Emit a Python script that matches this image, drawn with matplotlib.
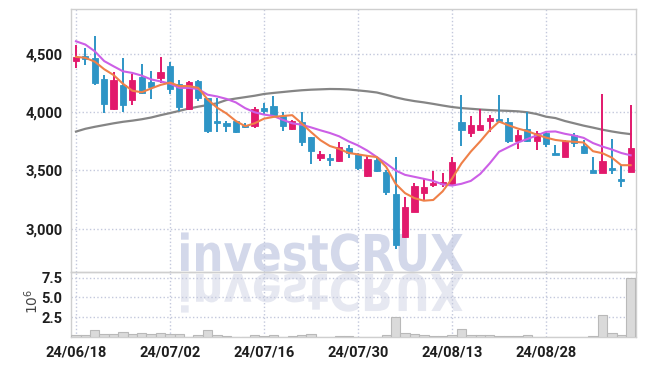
import numpy as np
import matplotlib
matplotlib.use('Agg')
import matplotlib.pyplot as plt
import matplotlib.transforms as mtransforms
from matplotlib.textpath import TextPath
from matplotlib.patches import PathPatch
from matplotlib.font_manager import FontProperties
from matplotlib.ticker import FuncFormatter

# trading days, 2024-06-18 .. 2024-09-10
dates = ['24/06/18', '24/06/19', '24/06/20', '24/06/21', '24/06/24', '24/06/25', '24/06/26',
         '24/06/27', '24/06/28', '24/07/01', '24/07/02', '24/07/03', '24/07/04', '24/07/05',
         '24/07/08', '24/07/09', '24/07/10', '24/07/11', '24/07/12', '24/07/15', '24/07/16',
         '24/07/17', '24/07/18', '24/07/19', '24/07/22', '24/07/23', '24/07/24', '24/07/25',
         '24/07/26', '24/07/29', '24/07/30', '24/07/31', '24/08/01', '24/08/02', '24/08/05',
         '24/08/06', '24/08/07', '24/08/08', '24/08/09', '24/08/12', '24/08/13', '24/08/14',
         '24/08/16', '24/08/19', '24/08/20', '24/08/21', '24/08/22', '24/08/23', '24/08/26',
         '24/08/27', '24/08/28', '24/08/29', '24/08/30', '24/09/02', '24/09/03', '24/09/04',
         '24/09/05', '24/09/06', '24/09/09', '24/09/10']

opens = [4438, 4484, 4470, 4286, 4030, 4237, 4108, 4303, 4263, 4291,
         4401, 4243, 4030, 4272, 4122, 3921, 3912, 3921, 3890, 3878,
         4036, 4050, 3964, 3852, 3920, 3786, 3605, 3605, 3584, 3691,
         3642, 3455, 3591, 3490, 3297, 2924, 3145, 3309, 3372, 3381,
         3375, 3916, 3826, 3849, 3929, 3938, 3916, 3757, 3855, 3757,
         3826, 3653, 3619, 3806, 3714, 3504, 3481, 3519, 3427, 3490]
highs = [4576, 4553, 4659, 4321, 4347, 4467, 4332, 4415, 4358, 4472,
         4435, 4280, 4272, 4275, 4125, 4122, 3927, 3925, 3912, 4041,
         4079, 4142, 4002, 3935, 4000, 3790, 3671, 3640, 3748, 3720,
         3650, 3625, 3619, 3500, 3614, 3274, 3390, 3433, 3496, 3476,
         3614, 4145, 3964, 4028, 3978, 4145, 3950, 3849, 4002, 3840,
         3834, 3717, 3763, 3820, 3763, 3619, 4159, 3771, 3547, 4065]
lows = [4381, 4403, 4234, 3993, 4022, 4004, 4062, 4157, 4114, 4252,
        4153, 4010, 4022, 4093, 3821, 3834, 3834, 3826, 3864, 3869,
        3978, 3964, 3843, 3849, 3714, 3556, 3582, 3539, 3576, 3610,
        3504, 3447, 3490, 3286, 2821, 2916, 3140, 3246, 3360, 3360,
        3366, 3711, 3786, 3845, 3834, 3907, 3740, 3685, 3748, 3677,
        3705, 3631, 3615, 3700, 3640, 3476, 3476, 3467, 3360, 3485]
closes = [4476, 4461, 4252, 4067, 4280, 4059, 4280, 4166, 4214, 4349,
          4200, 4047, 4263, 4122, 3843, 3907, 3878, 3834, 3872, 4030,
          4007, 3978, 3884, 3924, 3747, 3671, 3640, 3593, 3700, 3648,
          3519, 3597, 3498, 3317, 2858, 3183, 3366, 3355, 3390, 3403,
          3571, 3849, 3890, 3892, 3947, 3929, 3757, 3803, 3757, 3826,
          3726, 3636, 3754, 3740, 3653, 3476, 3582, 3504, 3412, 3691]
volume = [300000, 300000, 900000, 400000, 400000, 700000, 400000, 600000, 400000, 500000,
          400000, 400000, 100000, 250000, 900000, 350000, 200000, 100000, 100000, 250000,
          150000, 250000, 100000, 150000, 250000, 450000, 100000, 100000, 150000, 150000,
          100000, 100000, 100000, 300000, 2500000, 550000, 450000, 300000, 150000, 200000,
          300000, 1100000, 300000, 300000, 300000, 150000, 150000, 150000, 300000, 100000,
          100000, 100000, 100000, 100000, 100000, 200000, 2800000, 550000, 300000, 7500000]

ma_short = [4476, 4468, 4435, 4370, 4320, 4245, 4185, 4172, 4205, 4235,
            4255, 4225, 4225, 4210, 4110, 4040, 3990, 3925, 3880, 3905,
            3945, 3960, 3968, 3975, 3905, 3830, 3760, 3710, 3685, 3650,
            3638, 3625, 3615, 3530, 3385, 3305, 3262, 3240, 3246, 3320,
            3430, 3560, 3662, 3750, 3845, 3920, 3888, 3860, 3838, 3808,
            3782, 3762, 3752, 3746, 3740, 3665, 3648, 3610, 3545, 3545]
ma_mid = [4610, 4582, 4524, 4440, 4395, 4352, 4338, 4315, 4282, 4265,
          4246, 4210, 4209, 4200, 4151, 4136, 4115, 4085, 4035, 4000,
          3980, 3968, 3935, 3905, 3893, 3870, 3845, 3822, 3793, 3750,
          3715, 3670, 3615, 3560, 3500, 3462, 3445, 3428, 3410, 3380,
          3370, 3385, 3410, 3470, 3560, 3660, 3700, 3740, 3770, 3800,
          3832, 3835, 3815, 3800, 3780, 3735, 3705, 3680, 3650, 3630]
ma_long = [3834, 3858, 3875, 3890, 3905, 3918, 3928, 3940, 3955, 3975,
           3993, 4012, 4032, 4048, 4062, 4077, 4105, 4118, 4130, 4142,
           4157, 4166, 4174, 4182, 4189, 4194, 4197, 4200, 4199, 4196,
           4188, 4180, 4170, 4150, 4128, 4110, 4096, 4085, 4072, 4058,
           4045, 4036, 4030, 4024, 4019, 4015, 4012, 4008, 4000, 3985,
           3962, 3950, 3925, 3905, 3885, 3868, 3850, 3835, 3822, 3812]

price_ticks = [3000, 3500, 4000, 4500]
vol_ticks = [2.5, 5.0, 7.5]

up_color = '#e2196c'
down_color = '#2e95c6'
grid_color = '#c3c8dc'
spine_color = '#cfcfcf'

W, H = 645, 366
fig = plt.figure(figsize=(W / 100, H / 100), dpi=100)
ax = fig.add_axes([71 / W, 1 - 272 / H, 565 / W, 262.7 / H])
axv = fig.add_axes([71 / W, 1 - 337.3 / H, 565 / W, 65.3 / H], sharex=ax)
for a in (ax, axv):
    a.set_facecolor('none')
    for s in a.spines.values():
        s.set_color(spine_color)
        s.set_linewidth(1)
    a.grid(True, color=grid_color, linestyle=':', linewidth=1)
    a.set_axisbelow(True)
    a.tick_params(length=0, colors='#1e1e1e')

lab_font = FontProperties(family=['Liberation Sans Narrow', 'Roboto', 'DejaVu Sans'],
                          weight='bold', size=10.5)

x = np.arange(len(dates))
o = np.array(opens); c = np.array(closes)
colors = [up_color if cc >= oo else down_color for oo, cc in zip(opens, closes)]

# wicks and bodies
ax.vlines(x, lows, highs, colors=colors, linewidth=1.4, zorder=3)
body_lo = np.minimum(o, c)
body_h = np.maximum(np.abs(c - o), 4)
ax.bar(x, body_h, bottom=body_lo, width=0.66, color=colors, edgecolor=colors,
       linewidth=0.6, zorder=4)

ax.plot(x, ma_long, color='#858585', linewidth=1.6, zorder=2)
ax.plot(x, ma_mid, color='#cc5fe6', linewidth=1.5, zorder=5)
ax.plot(x, ma_short, color='#ef8048', linewidth=1.5, zorder=5)

ax.set_xlim(-0.53, 59.57)
ax.set_ylim(2627, 4885)
ax.set_yticks(price_ticks)
ax.yaxis.set_major_formatter(FuncFormatter(lambda v, p: f'{int(v):,}'))
ax.tick_params(labelbottom=False, pad=6)
for t in ax.get_yticklabels():
    t.set_fontproperties(lab_font)

vol_m = np.array(volume) / 1e6
axv.bar(x, vol_m, width=1.0, color='#dadada', edgecolor='#b9b9b9', linewidth=0.8, zorder=3)
axv.set_ylim(0, 8.2)
axv.set_yticks(vol_ticks)
axv.set_yticklabels([f'{v:.1f}' for v in vol_ticks])
tick_idx = list(range(0, len(dates), 10))
axv.set_xticks(tick_idx)
axv.set_xticklabels([dates[i] for i in tick_idx])
axv.tick_params(pad=6)
for t in axv.get_yticklabels() + axv.get_xticklabels():
    t.set_fontproperties(lab_font)
fig.text(32 / W, 1 - 301 / H, r'$10^6$', rotation=90, ha='center', va='center',
         fontsize=10, color='#444444')

# watermark with reflection
fp = FontProperties(family='DejaVu Sans', weight='bold')
tp = TextPath((0, 0), 'investCRUX', size=1, prop=fp)
bb = tp.get_extents()
sx = (463 - 181) / bb.width
sy = 37 / 0.729
main_tr = mtransforms.Affine2D().translate(-bb.x0, 0).scale(sx, sy).translate(181, H - 271)
refl_tr = mtransforms.Affine2D().translate(-bb.x0, 0).scale(sx, -sy).translate(181, H - 274)
for tr, col in ((main_tr, '#d3d8ea'), (refl_tr, '#e6e8f1')):
    p = PathPatch(tr.transform_path(tp), facecolor=col, edgecolor='none',
                  transform=mtransforms.IdentityTransform(), zorder=-1)
    fig.add_artist(p)

plt.savefig('out.png', dpi=100)
